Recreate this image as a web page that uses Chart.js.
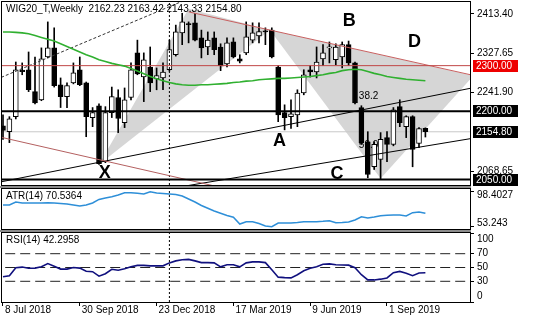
<!DOCTYPE html>
<html><head><meta charset="utf-8">
<script src="https://cdn.jsdelivr.net/npm/chart.js@4.4.1/dist/chart.umd.min.js"></script>
<style>
html,body{margin:0;padding:0;background:#fff;}
body{width:536px;height:320px;position:relative;overflow:hidden}
canvas{position:absolute;left:0;display:block}
.sep{position:absolute;left:0;width:471px;height:2px;background:#8c8c8c}
</style></head><body>
<canvas id="cMain" width="536" height="186" style="top:0"></canvas>
<div class="sep" style="top:186px"></div>
<canvas id="cAtr" width="536" height="42" style="top:188px"></canvas>
<div class="sep" style="top:230px"></div>
<canvas id="cRsi" width="536" height="88" style="top:232px"></canvas>
<script>
// ---------------- DATA ----------------
const symbol = 'WIG20_T';
const period = 'Weekly';
const dateTickLabels = ['8 Jul 2018','30 Sep 2018','23 Dec 2018','17 Mar 2019','9 Jun 2019','1 Sep 2019'];
const dateTickIndex = [0,12,24,36,48,60];

const opens = [2168,2155,2188,2290,2291,2243,2225,2319,2339,2258,
 2232,2262,2291,2262,2186,2212,2089,2197,2230,2175,
 2230,2328,2275,2297,2271,2273,2291,2324,2372,2392,
 2394,2361,2341,2361,2341,2304,2352,2315,2328,2356,
 2365,2376,2378,2297,2197,2188,2192,2240,2291,2286,
 2315,2339,2313,2319,2346,2306,2208,2133,2078,2094,
 2142,2127,2210,2166,2188,2129,2162.23];
const highs = [2192,2188,2308,2306,2330,2319,2339,2396,2383,2273,
 2262,2306,2319,2264,2208,2216,2210,2253,2247,2251,
 2306,2356,2328,2341,2295,2306,2356,2389,2415,2396,
 2415,2378,2374,2374,2348,2361,2361,2324,2396,2394,
 2394,2383,2383,2300,2214,2225,2247,2291,2300,2341,
 2346,2352,2348,2352,2354,2308,2212,2155,2133,2153,
 2155,2208,2225,2190,2190,2164,2163.42];
const lows = [2138,2131,2183,2280,2243,2216,2223,2317,2253,2208,
 2208,2260,2256,2144,2166,2083,2087,2186,2153,2164,
 2225,2280,2221,2243,2247,2247,2288,2321,2346,2350,
 2354,2317,2324,2324,2289,2297,2317,2306,2324,2350,
 2350,2346,2317,2177,2159,2162,2166,2236,2275,2273,
 2300,2306,2302,2295,2300,2216,2127,2054,2072,2050,
 2089,2124,2166,2142,2078,2120,2143.33];
const closes = [2158,2183,2291,2287,2247,2218,2315,2339,2256,2232,
 2256,2284,2258,2188,2197,2085,2197,2232,2184,2225,
 2291,2282,2313,2262,2278,2286,2335,2374,2396,2390,
 2356,2339,2356,2335,2300,2350,2319,2310,2363,2372,
 2375,2374,2319,2192,2186,2194,2240,2280,2286,2308,
 2328,2341,2341,2346,2306,2218,2131,2061,2127,2138,
 2127,2203,2175,2188,2116,2162,2154.80];
const maValues = [2374,2374,2373,2372,2370,2366,2362,2358,2354,2348,
 2342,2336,2330,2324,2319,2313,2309,2305,2302,2299,
 2294,2288,2282,2276,2271,2267,2263,2260,2258,2257,
 2257,2258,2258,2259,2260,2261,2263,2264,2266,2267,
 2269,2270,2271,2272,2272,2273,2274,2275,2276,2278,
 2280,2283,2285,2289,2291,2292,2291,2287,2283,2280,
 2276,2274,2272,2270,2269,2268,2267];
const atrValues = [81.2,81.2,85.1,83.8,83.8,83.8,83.8,84.2,83.8,83.2,
 82.5,81.2,79.9,81.2,83.8,88.4,90.3,92.0,94.1,97.1,
 97.1,96.3,95.4,98.4027,96.7,96.1,95.4,94.8,92.9,89.0,
 85.1,80.6,77.0,73.5,70.5,67.7,65.4,56.7,59.7,59.7,
 57.4,54.2,53.243,58.0,58.0,58.0,58.7,59.7,59.7,59.7,
 60.2,61.0,58.4,58.7,59.3,61.9,66.1,64.5,65.8,67.4,
 68.0,68.3,68.3,67.1,71.3,72.2,70.5364];
const rsiValues = [36.7,38.1,49.6,50.6,48.9,49.1,51.0,55.7,51.7,47.7,
 47.7,50.0,49.1,44.6,43.9,37.4,41.0,47.4,46.0,48.1,
 51.0,53.1,53.1,52.4,52.4,52.4,56.7,59.6,61.3,61.7,
 59.6,57.1,57.1,56.7,51.0,53.9,53.9,51.0,56.7,58.1,
 58.1,57.1,46.7,36.0,35.3,35.0,39.6,45.3,48.9,51.0,
 54.6,55.3,53.9,53.6,53.4,49.6,39.6,32.0,32.0,33.1,
 34.9,42.4,44.3,41.7,38.1,42.0,42.2958];

const priceTicks = [2413.40, 2327.65, 2241.90, 2068.65];
const atrTicks = [98.4027, 53.243];
const rsiTicks = [100, 70, 50, 30, 0];
const rsiLevels = [70, 50, 30];
const redLevel = 2300;
const blackLevels = [2200, 2050];
const separatorIndex = 26;

const patternLabels = ['X','A','B','C','D'];
const patternLabelIndex = [15.9, 43.2, 54.1, 52.2, 64.3];
const patternLabelPrice = [2065, 2135, 2398, 2062, 2351];
const fiboLabels = ['38.2', '50.0'];
const fiboLabelIndex = [55.6, 55.6];
const fiboLabelPrice = [2232, 2125];

const triangle1 = [[15, 2083], [29, 2425], [41.7, 2378]];
const triangle2 = [[41.7, 2378], [59, 2052], [73.5, 2278]];
const dottedTrend = [[-1, 2270], [31, 2459]];
const redTrendTop = [[29, 2418], [74, 2277]];
const redTrendLow = [[-1, 2145], [33, 2036]];
const blackTrendUp = [[-1, 2043], [74, 2253]];
const blackTrendLow = [[26, 2030], [74, 2142]];

// ---------------- SETUP ----------------
Chart.defaults.font.family = "'Liberation Sans', Arial, sans-serif";
Chart.defaults.font.size = 10;
Chart.defaults.color = '#000';
Chart.defaults.animation = false;

const XMIN = -0.156, XMAX = 72.969, AXIS_W = 66;
const idx = opens.map((_, i) => i);
const FONT = "10px 'Liberation Sans', Arial, sans-serif";

function pts(arr) { return arr.map(p => ({x: p[0], y: p[1]})); }
function closed(arr) { return pts(arr.concat([arr[0]])); }
function lineDs(data, color, width, dash, order, extra) {
  return Object.assign({type: 'line', data, borderColor: color, borderWidth: width, borderDash: dash || [],
    pointRadius: 0, fill: false, tension: 0, order}, extra || {});
}
function hLine(v) { return [{x: -2, y: v}, {x: 80, y: v}]; }
function vLine(i, lo, hi) { return [{x: i, y: lo}, {x: i, y: hi}]; }
function xHidden() { return {type: 'linear', min: XMIN, max: XMAX, offset: false, display: false}; }
function rightAxis(min, max, ticks, fmt) {
  return {position: 'right', min, max,
    afterBuildTicks: s => { s.ticks = ticks.map(v => ({value: v})); },
    afterFit: s => { s.width = AXIS_W; s.paddingTop = 0; s.paddingBottom = 0; },
    ticks: {padding: 3, color: '#000', callback: fmt, autoSkip: false, font: {size: 10}},
    grid: {drawOnChartArea: false, drawTicks: true, tickLength: 4, color: '#000'},
    border: {display: true, color: '#000'}};
}
function drawTexts(chart, items) {
  const {ctx, scales: {x, y}} = chart;
  ctx.save();
  for (const t of items) {
    ctx.font = t.font; ctx.fillStyle = '#000';
    ctx.textAlign = t.align; ctx.textBaseline = 'middle';
    ctx.fillText(t.text, x.getPixelForValue(t.x), y.getPixelForValue(t.y));
  }
  ctx.restore();
}
const overlay = {
  id: 'overlay',
  beforeDraw(chart, args, opts) {
    if (!opts.nudge) return;
    const s = chart.scales.y;
    const items = s.getLabelItems();
    items.forEach((it, k) => {
      const d = opts.nudge[String(s.ticks[k].value)];
      if (d && !it._nudged) { it.options.translation[1] += d; it._nudged = true; }
    });
  },
  afterDatasetDraw(chart, args, opts) {
    if (opts.under && chart.data.datasets[args.index].tag === 'T2') drawTexts(chart, opts.under);
  },
  afterDatasetsDraw(chart, args, opts) {
    const {ctx, chartArea: a} = chart;
    if (opts.over) drawTexts(chart, opts.over);
    ctx.save();
    if (opts.boxes) {
      const y = chart.scales.y;
      for (const b of opts.boxes) {
        const py = Math.round(y.getPixelForValue(b.value));
        ctx.fillStyle = b.bg; ctx.fillRect(a.right + 3, py - 6, 45, 12);
        ctx.fillStyle = '#fff'; ctx.font = FONT; ctx.textAlign = 'left'; ctx.textBaseline = 'middle';
        ctx.fillText(b.value.toFixed(2), a.right + 6, py);
      }
    }
    if (opts.caption) {
      ctx.fillStyle = '#000'; ctx.font = FONT; ctx.textAlign = 'left'; ctx.textBaseline = 'middle';
      ctx.fillText(opts.caption, a.left + 4, a.top + 7);
    }
    ctx.strokeStyle = '#000'; ctx.lineWidth = 1;
    ctx.strokeRect(a.left - 0.5, a.top - 0.5, a.right - a.left + 1, a.bottom - a.top + 1);
    ctx.restore();
  }
};
const baseOpts = (padding, scales, ov) => ({
  responsive: false, animation: false, events: [],
  layout: {padding},
  plugins: {legend: {display: false}, tooltip: {enabled: false}, overlay: ov},
  scales
});

// ---------------- MAIN PRICE PANEL ----------------
const YMIN = 2038.0, YMAX = 2439.7;
const last = opens.length - 1;
const caption = symbol + ',' + period + '  ' + [opens[last], highs[last], lows[last], closes[last]].map(v => v.toFixed(2)).join(' ');

new Chart(document.getElementById('cMain'), {
  type: 'bar',
  data: {datasets: [
    {type: 'bar', data: idx.map(i => ({x: i, y: [Math.min(opens[i], closes[i]), Math.max(opens[i], closes[i])]})),
      backgroundColor: idx.map(i => closes[i] >= opens[i] ? '#ffffff' : '#000000'),
      borderColor: '#000', borderWidth: 1, borderSkipped: false, grouped: false, barThickness: 5, minBarLength: 1, order: 1},
    {type: 'bar', data: idx.map(i => ({x: i, y: [lows[i], highs[i]]})),
      backgroundColor: '#000', borderWidth: 0, grouped: false, barThickness: 1, order: 2},
    lineDs(idx.map(i => ({x: i, y: maValues[i]})), '#30b030', 1.6, [], 0),
    lineDs(hLine(redLevel), '#c04646', 1, [], 0),
    lineDs(hLine(blackLevels[0]), '#000', 2, [], 0),
    lineDs(hLine(blackLevels[1]), '#000', 2, [], 0),
    lineDs(hLine(closes[last]), '#c8c8c8', 1, [], 5),
    lineDs(pts(dottedTrend), '#333', 1, [3, 2], 0),
    lineDs(pts(redTrendTop), '#c86060', 1, [], 0),
    lineDs(pts(redTrendLow), '#b46060', 1, [], 0),
    lineDs(pts(blackTrendUp), '#000', 1, [], 0),
    lineDs(pts(blackTrendLow), '#000', 1, [], 0),
    lineDs(vLine(separatorIndex, YMIN, YMAX), '#000', 1, [2, 2], 0),
    lineDs(closed(triangle1), 'rgba(0,0,0,0)', 1, [], 11, {fill: 'shape', backgroundColor: '#d6d6d6', tag: 'T1'}),
    lineDs(closed(triangle2), 'rgba(0,0,0,0)', 1, [], 10, {fill: 'shape', backgroundColor: '#d6d6d6', tag: 'T2'})
  ]},
  options: baseOpts({left: 2, top: 2, bottom: 1, right: 0},
    {x: xHidden(), y: rightAxis(YMIN, YMAX, priceTicks, v => Number(v).toFixed(2))},
    {
      caption,
      over: patternLabels.map((t, k) => ({text: t, x: patternLabelIndex[k], y: patternLabelPrice[k], align: 'center', font: "bold 18px 'Liberation Sans', Arial, sans-serif"})),
      under: fiboLabels.map((t, k) => ({text: t, x: fiboLabelIndex[k], y: fiboLabelPrice[k], align: 'left', font: FONT})),
      boxes: [{value: redLevel, bg: '#ee0000'}, {value: blackLevels[0], bg: '#000'}, {value: closes[last], bg: '#000'}, {value: blackLevels[1], bg: '#000'}]
    }),
  plugins: [overlay]
});

// ---------------- ATR PANEL ----------------
const AMIN = 50.275, AMAX = 101.887;
new Chart(document.getElementById('cAtr'), {
  type: 'line',
  data: {datasets: [
    lineDs(idx.map(i => ({x: i, y: atrValues[i]})), '#2e8fd8', 1.5, [], 0),
    lineDs(vLine(separatorIndex, AMIN, AMAX), '#000', 1, [2, 2], 1)
  ]},
  options: baseOpts({left: 2, top: 1, bottom: 1, right: 0},
    {x: xHidden(), y: rightAxis(AMIN, AMAX, atrTicks, v => String(v))},
    {caption: 'ATR(14) ' + atrValues[last].toFixed(4), nudge: {'98.4027': 3.5, '53.243': -3.5}}),
  plugins: [overlay]
});

// ---------------- RSI PANEL ----------------
new Chart(document.getElementById('cRsi'), {
  type: 'line',
  data: {datasets: [
    lineDs(idx.map(i => ({x: i, y: rsiValues[i]})), '#10107e', 1.6, [], 0),
    ...rsiLevels.map(v => lineDs(hLine(v), '#222', 1, [10, 5], 1)),
    lineDs(vLine(separatorIndex, 0, 100), '#000', 1, [2, 2], 1)
  ]},
  options: baseOpts({left: 2, top: 1, bottom: 0, right: 0},
    {x: {type: 'linear', min: XMIN, max: XMAX, offset: false, position: 'bottom',
        afterBuildTicks: s => { s.ticks = dateTickIndex.map(v => ({value: v})); },
        afterFit: s => { s.height = 18; s.paddingLeft = 0; s.paddingRight = 0; },
        ticks: {autoSkip: false, maxRotation: 0, align: 'start', padding: -2, labelOffset: 2,
          callback: (v, k) => dateTickLabels[k], font: {size: 10}, color: '#000'},
        grid: {drawOnChartArea: false, drawTicks: true, tickLength: 4, color: '#000'},
        border: {display: true, color: '#000'}},
     y: rightAxis(0, 100, rsiTicks, v => String(v))},
    {caption: 'RSI(14) ' + rsiValues[last].toFixed(4), nudge: {'100': 6.5, '0': -6}}),
  plugins: [overlay]
});
</script>
</body></html>
